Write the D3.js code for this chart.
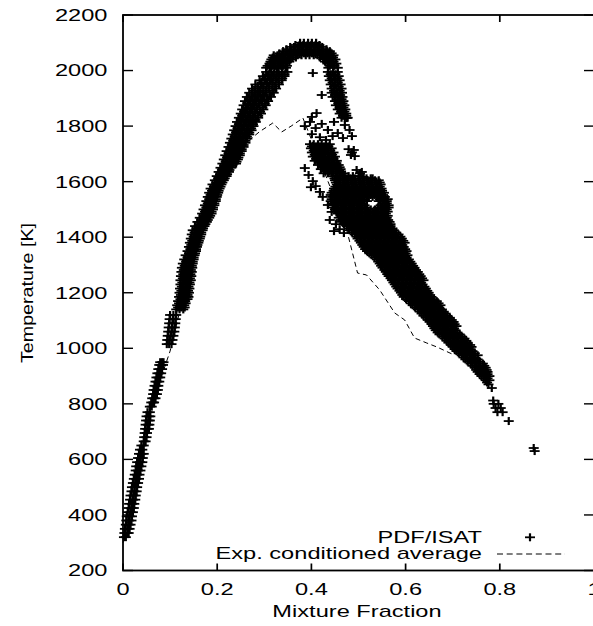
<!DOCTYPE html>
<html><head><meta charset="utf-8">
<script src="https://cdn.jsdelivr.net/npm/d3@7"></script>
<style>
body{margin:0;background:#fff}
svg{display:block}
text{font-family:"Liberation Sans",Arial,Helvetica,sans-serif;fill:#000}
</style>
</head><body>
<svg id="chart" width="593" height="626"></svg>
<script>
// ---- DATA ----
// rows: [Temperature, mixtureFraction1, mixtureFraction2, ...]
const risingBand = [
[320,0.002,0.006],[335,0.003,0.009,0.012],[350,0.004,0.010,0.014],[365,0.006,0.012,0.016],
[380,0.007,0.013,0.018],[395,0.008,0.014,0.019],[410,0.010,0.016,0.021],[425,0.012,0.018,0.023],
[440,0.013,0.019,0.024],[455,0.015,0.021,0.026],[470,0.016,0.022,0.027],[485,0.018,0.024,0.029],
[500,0.019,0.025,0.030],[515,0.021,0.027,0.032],[530,0.023,0.028,0.034],[545,0.025,0.030,0.035],
[560,0.027,0.032,0.037],[575,0.028,0.034,0.039],[590,0.030,0.036,0.041],[605,0.032,0.037,0.042],
[620,0.034,0.039,0.044],[635,0.036,0.041],[650,0.039,0.044],[665,0.044,0.048],[680,0.045,0.050],
[695,0.046,0.051],[710,0.047,0.052,0.055],[725,0.048,0.053,0.056],[740,0.049,0.054,0.057],
[755,0.050,0.055,0.058],[770,0.052,0.057],[790,0.057,0.061],[805,0.060,0.064,0.066],
[820,0.062,0.066,0.069],[835,0.064,0.068,0.072],[850,0.065,0.070,0.074],[865,0.067,0.071,0.075],
[880,0.069,0.073,0.077],[895,0.071,0.075,0.079],[910,0.073,0.077,0.081],[925,0.075,0.079,0.083],
[940,0.077,0.081,0.085],[950,0.079,0.083,0.086],
[1015,0.093,0.098,0.103],[1030,0.094,0.099,0.105],[1045,0.095,0.101,0.107],[1060,0.096,0.103,0.109],
[1075,0.097,0.104,0.110],[1090,0.098,0.105,0.111],[1105,0.099,0.106,0.112],[1120,0.100,0.107,0.113],
[1140,0.113,0.120,0.128],[1155,0.115,0.122,0.130],[1170,0.117,0.124,0.132],[1185,0.119,0.126,0.134,0.139],
[1200,0.120,0.127,0.135,0.140],[1215,0.121,0.128,0.136,0.141],[1230,0.122,0.129,0.137,0.142],
[1245,0.122,0.130,0.138,0.144],[1260,0.123,0.131,0.139,0.145],[1275,0.124,0.132,0.140,0.146],
[1290,0.125,0.133,0.141,0.147],[1305,0.127,0.135,0.143,0.148],[1320,0.130,0.138,0.145,0.150],
[1335,0.133,0.141,0.148,0.152],[1350,0.137,0.144,0.151,0.155],[1365,0.140,0.147,0.153,0.157],
[1380,0.142,0.149,0.156,0.160],[1395,0.144,0.151,0.158,0.163],[1410,0.146,0.153,0.160,0.166],
[1425,0.148,0.156,0.163,0.169],[1440,0.153,0.160,0.167,0.173],[1455,0.158,0.165,0.172,0.178],
[1470,0.163,0.170,0.177,0.183],[1485,0.168,0.175,0.182,0.188],[1500,0.171,0.178,0.185,0.191],
[1515,0.174,0.181,0.188,0.194],[1530,0.177,0.184,0.191,0.197],[1545,0.180,0.187,0.194,0.199],
[1560,0.183,0.190,0.197,0.202],[1575,0.186,0.193,0.200,0.205],[1590,0.190,0.197,0.204,0.209],
[1605,0.195,0.201,0.208,0.214],[1620,0.199,0.206,0.213,0.220],[1635,0.203,0.210,0.217,0.225],
[1650,0.207,0.214,0.222,0.230],[1665,0.211,0.219,0.227,0.235,0.240],[1680,0.214,0.222,0.230,0.238,0.244],
[1695,0.217,0.225,0.233,0.241,0.248],[1710,0.220,0.228,0.236,0.244,0.252],[1725,0.224,0.232,0.240,0.248,0.256],
[1740,0.227,0.235,0.243,0.251,0.260],[1755,0.230,0.238,0.246,0.255,0.264],[1770,0.233,0.241,0.250,0.259,0.268],
[1785,0.236,0.245,0.254,0.263,0.273],[1800,0.239,0.248,0.257,0.267,0.277],[1815,0.242,0.251,0.261,0.271,0.282],
[1830,0.246,0.255,0.265,0.276,0.287],[1845,0.250,0.259,0.270,0.281,0.293],[1860,0.253,0.263,0.274,0.285,0.298],
[1875,0.256,0.267,0.278,0.290,0.303],[1890,0.259,0.271,0.283,0.295,0.308],[1905,0.263,0.275,0.287,0.300,0.314],
[1920,0.268,0.280,0.292,0.305,0.320],[1935,0.274,0.286,0.298,0.311,0.325],[1950,0.281,0.293,0.305,0.317,0.331],
[1965,0.290,0.301,0.312,0.324,0.337],[1980,0.297,0.308,0.319,0.330,0.343],[1995,0.304,0.315,0.326,0.337,0.349]
];
const risingBandFill = [
[1147,0.117,0.124,0.131],[1162,0.119,0.126,0.133],[1177,0.122,0.130,0.137],[1192,0.123,0.131,0.137],
[1207,0.124,0.132,0.138],[1222,0.125,0.133,0.139],[1237,0.126,0.134,0.141],[1252,0.127,0.135,0.142],
[1267,0.128,0.136,0.143],[1282,0.129,0.137,0.144],[1297,0.131,0.139,0.146],[1312,0.134,0.141,0.148],
[1327,0.137,0.144,0.150],[1342,0.140,0.147,0.153],[1357,0.143,0.150,0.155],[1372,0.145,0.152,0.158],
[1387,0.147,0.154,0.161],[1402,0.150,0.157,0.164],[1417,0.152,0.159,0.166],[1432,0.156,0.163,0.170],
[1447,0.161,0.168,0.175],[1462,0.166,0.173,0.180],[1477,0.171,0.178,0.185],[1492,0.174,0.181,0.188],
[1507,0.177,0.184,0.191],[1522,0.180,0.187,0.194],[1537,0.183,0.190,0.197],[1552,0.186,0.193,0.200],
[1567,0.189,0.196,0.203],[1582,0.193,0.200,0.207],[1597,0.198,0.205,0.211],[1612,0.202,0.209,0.216],
[1627,0.206,0.213,0.221],[1642,0.210,0.218,0.226],[1657,0.215,0.223,0.231],[1672,0.218,0.226,0.234,0.241],
[1687,0.221,0.229,0.237,0.245],[1702,0.224,0.232,0.240,0.248],[1717,0.228,0.236,0.244,0.252],
[1732,0.231,0.239,0.247,0.256],[1747,0.234,0.242,0.251,0.260],[1762,0.237,0.245,0.254,0.263],
[1777,0.240,0.249,0.258,0.268],[1792,0.243,0.252,0.262,0.272],[1807,0.246,0.256,0.266,0.276],
[1822,0.250,0.260,0.270,0.281],[1837,0.253,0.264,0.275,0.287],[1852,0.257,0.268,0.279,0.291],
[1867,0.261,0.272,0.283,0.296],[1882,0.264,0.276,0.288,0.301],[1897,0.268,0.280,0.292,0.306],
[1912,0.273,0.285,0.297,0.311],[1927,0.279,0.291,0.303,0.317],[1942,0.286,0.298,0.310,0.323],
[1957,0.294,0.306,0.318,0.330],[1972,0.302,0.314,0.326,0.338],[1987,0.309,0.320,0.331,0.343]
];
const peakBand = [
[2010,0.304,0.312,0.321,0.329,0.338,0.346,0.436,0.446,0.456],
[2025,0.311,0.319,0.328,0.336,0.345,0.434,0.443,0.453],
[2040,0.315,0.323,0.332,0.340,0.349,0.356,0.425,0.433,0.442,0.451],
[2055,0.320,0.328,0.337,0.345,0.354,0.362,0.371,0.379,0.388,0.396,0.405,0.413,0.422,0.430,0.439,0.447],
[2070,0.340,0.348,0.357,0.365,0.374,0.382,0.391,0.399,0.408,0.416,0.425,0.433,0.439],
[2085,0.355,0.363,0.372,0.380,0.389,0.397,0.406,0.414,0.423],
[2100,0.376,0.384,0.393,0.401,0.410]
];
const peakBandFill = [
[2017,0.307,0.316,0.324,0.333,0.341,0.348,0.439,0.449],
[2032,0.313,0.321,0.330,0.338,0.347,0.353,0.429,0.438,0.447],
[2047,0.318,0.327,0.336,0.344,0.353,0.360,0.367,0.418,0.427,0.437,0.446],
[2062,0.332,0.341,0.350,0.358,0.367,0.375,0.384,0.392,0.401,0.409,0.418,0.426,0.435,0.443],
[2077,0.347,0.356,0.364,0.373,0.381,0.390,0.398,0.407,0.415,0.424,0.432],
[2092,0.366,0.375,0.383,0.392,0.400,0.409,0.417]
];
const rightArm = [
[1995,0.435,0.446,0.456],[1980,0.437,0.448,0.458],[1965,0.439,0.450,0.460],[1950,0.441,0.451,0.462],
[1935,0.443,0.453,0.464],[1920,0.443,0.454,0.465],[1905,0.445,0.456,0.466],[1890,0.450,0.460,0.468],
[1875,0.452,0.462,0.470],[1860,0.456,0.464,0.472],[1845,0.460,0.467,0.474],[1830,0.464,0.471,0.477]
];
const rightArmFill = [
[1987,0.441,0.451],[1972,0.443,0.455],[1957,0.445,0.456],[1942,0.448,0.458],[1927,0.448,0.460],
[1912,0.450,0.461],[1897,0.455,0.464],[1882,0.457,0.466],[1867,0.460,0.468],[1852,0.463,0.470],[1837,0.467,0.474]
];
const leftBranch = [
[1735,0.397,0.405,0.414,0.422,0.431,0.439],[1720,0.399,0.408,0.416,0.425,0.433,0.443],
[1705,0.401,0.410,0.418,0.427,0.436,0.447],[1690,0.403,0.412,0.420,0.429,0.439,0.450],
[1675,0.407,0.416,0.424,0.433,0.443,0.454],[1660,0.414,0.422,0.430,0.439,0.448,0.458],
[1645,0.420,0.428,0.437,0.446,0.455,0.462],[1630,0.426,0.435,0.443,0.452,0.460,0.467]
];
const leftBranchFill = [
[1727,0.401,0.410,0.418,0.427,0.436],[1712,0.405,0.414,0.422,0.431,0.440],[1697,0.407,0.416,0.424,0.434,0.444],
[1682,0.410,0.420,0.428,0.437,0.447],[1667,0.418,0.426,0.435,0.444,0.453],[1652,0.424,0.433,0.442,0.451,0.460],
[1637,0.430,0.439,0.447,0.456,0.463]
];
const descendingBand = [
[1620,0.445,0.454,0.462,0.471,0.479,0.488],
[1605,0.450,0.458,0.467,0.475,0.484,0.492,0.501,0.509,0.518,0.526,0.535,0.543],
[1590,0.454,0.462,0.471,0.479,0.488,0.496,0.505,0.513,0.522,0.530,0.539,0.547],
[1575,0.448,0.456,0.465,0.473,0.481,0.490,0.498,0.507,0.515,0.524,0.532,0.541,0.549],
[1560,0.443,0.452,0.460,0.469,0.477,0.486,0.494,0.503,0.511,0.520,0.528,0.537,0.545,0.554],
[1545,0.445,0.454,0.462,0.471,0.479,0.488,0.496,0.505,0.513,0.522,0.530,0.539,0.547,0.556],
[1530,0.441,0.450,0.458,0.467,0.475,0.484,0.492,0.501,0.509,0.518,0.543,0.551,0.560],
[1515,0.445,0.454,0.462,0.471,0.479,0.488,0.496,0.505,0.513,0.547,0.556,0.564],
[1500,0.450,0.458,0.467,0.475,0.484,0.492,0.501,0.509,0.518,0.526,0.535,0.543,0.552,0.560],
[1485,0.456,0.465,0.473,0.481,0.490,0.498,0.507,0.515,0.524,0.532,0.541,0.549,0.558],
[1470,0.458,0.467,0.475,0.484,0.492,0.501,0.509,0.518,0.526,0.535,0.543,0.552,0.560],
[1455,0.465,0.473,0.481,0.490,0.498,0.507,0.515,0.524,0.532,0.541,0.549,0.558,0.566],
[1440,0.475,0.484,0.492,0.501,0.509,0.518,0.526,0.535,0.543,0.552,0.560,0.568],
[1425,0.481,0.490,0.498,0.507,0.515,0.524,0.532,0.541,0.549,0.558,0.566,0.575],
[1410,0.492,0.501,0.509,0.518,0.526,0.535,0.543,0.552,0.560,0.568,0.577,0.585],
[1395,0.498,0.507,0.515,0.524,0.532,0.541,0.549,0.558,0.566,0.575,0.583,0.592],
[1380,0.505,0.513,0.522,0.530,0.539,0.547,0.556,0.564,0.573,0.581,0.590,0.598],
[1365,0.511,0.520,0.528,0.537,0.545,0.554,0.562,0.571,0.579,0.587,0.596],
[1350,0.518,0.526,0.535,0.543,0.552,0.560,0.568,0.577,0.585,0.594,0.602],
[1335,0.528,0.537,0.545,0.554,0.562,0.571,0.579,0.587,0.596,0.604],
[1320,0.539,0.547,0.556,0.564,0.573,0.581,0.590,0.598,0.607],
[1305,0.545,0.554,0.562,0.571,0.579,0.587,0.596,0.604,0.613],
[1290,0.551,0.560,0.568,0.577,0.585,0.594,0.602,0.611,0.619],
[1275,0.558,0.566,0.575,0.583,0.592,0.600,0.609,0.617,0.626],
[1260,0.564,0.573,0.581,0.590,0.598,0.607,0.615,0.624,0.632],
[1245,0.571,0.579,0.587,0.596,0.604,0.613,0.621,0.630,0.638],
[1230,0.577,0.585,0.594,0.602,0.611,0.619,0.628,0.636],
[1215,0.583,0.592,0.600,0.609,0.617,0.626,0.634,0.643],
[1200,0.590,0.598,0.607,0.615,0.624,0.632,0.641,0.649],
[1185,0.596,0.604,0.613,0.621,0.630,0.638,0.647,0.655],
[1170,0.607,0.615,0.624,0.632,0.641,0.649,0.658,0.666],
[1155,0.615,0.624,0.632,0.641,0.649,0.658,0.666,0.674],
[1140,0.626,0.634,0.643,0.651,0.660,0.668,0.677],
[1125,0.634,0.643,0.651,0.660,0.668,0.677,0.685],
[1110,0.643,0.651,0.660,0.668,0.677,0.685,0.694],
[1095,0.651,0.660,0.668,0.677,0.685,0.694,0.702],
[1080,0.658,0.666,0.674,0.683,0.691,0.700,0.708],
[1065,0.664,0.672,0.681,0.689,0.698,0.706],
[1050,0.672,0.681,0.689,0.698,0.706,0.715],
[1035,0.683,0.691,0.700,0.708,0.717,0.725],
[1020,0.691,0.700,0.708,0.717,0.725,0.732],
[1005,0.700,0.708,0.717,0.725,0.734,0.740],
[990,0.708,0.717,0.725,0.734,0.742],
[975,0.719,0.727,0.736,0.744,0.753],
[960,0.727,0.736,0.744,0.753],
[945,0.738,0.747,0.755,0.764],
[930,0.747,0.755,0.764,0.770],
[915,0.753,0.761,0.770,0.774],
[900,0.761,0.770,0.778],
[885,0.770,0.778],
[870,0.776]
];
const descendingBandFill = [
[1612,0.449,0.458,0.466,0.475,0.483,0.492,0.500,0.509,0.517,0.526,0.530],
[1597,0.452,0.460,0.469,0.477,0.486,0.494,0.503,0.511,0.520,0.528,0.537,0.545],
[1582,0.451,0.460,0.468,0.477,0.485,0.494,0.502,0.511,0.519,0.528,0.536,0.545],
[1567,0.447,0.456,0.464,0.473,0.481,0.490,0.498,0.507,0.515,0.524,0.532,0.541,0.550],
[1552,0.441,0.449,0.458,0.466,0.475,0.483,0.492,0.500,0.509,0.517,0.526,0.534,0.543,0.552],
[1537,0.443,0.451,0.460,0.468,0.477,0.485,0.494,0.502,0.511,0.545,0.554,0.562],
[1522,0.447,0.456,0.464,0.473,0.481,0.490,0.498,0.507,0.551,0.560],
[1507,0.447,0.456,0.464,0.473,0.481,0.490,0.498,0.507,0.515,0.541,0.549,0.558,0.564],
[1492,0.453,0.462,0.470,0.479,0.487,0.496,0.504,0.513,0.521,0.530,0.538,0.547,0.555,0.562],
[1477,0.462,0.470,0.479,0.487,0.496,0.504,0.513,0.521,0.530,0.538,0.547,0.555,0.562],
[1462,0.462,0.470,0.479,0.487,0.496,0.504,0.513,0.521,0.530,0.538,0.547,0.555,0.563],
[1447,0.469,0.477,0.486,0.494,0.503,0.511,0.520,0.528,0.537,0.545,0.554,0.562,0.568],
[1432,0.479,0.487,0.496,0.504,0.513,0.521,0.530,0.538,0.547,0.555,0.564,0.572],
[1417,0.486,0.494,0.503,0.511,0.520,0.528,0.537,0.545,0.554,0.562,0.571,0.580],
[1402,0.496,0.504,0.513,0.521,0.530,0.538,0.547,0.555,0.564,0.572,0.581,0.589],
[1387,0.502,0.511,0.519,0.528,0.536,0.545,0.553,0.562,0.570,0.579,0.587,0.595],
[1372,0.508,0.517,0.525,0.534,0.542,0.551,0.559,0.568,0.576,0.585,0.593],
[1357,0.514,0.523,0.531,0.540,0.548,0.557,0.565,0.574,0.582,0.591,0.599],
[1342,0.523,0.532,0.540,0.549,0.557,0.566,0.574,0.583,0.591,0.600],
[1327,0.534,0.543,0.551,0.560,0.568,0.577,0.585,0.594,0.602],
[1312,0.542,0.550,0.559,0.567,0.576,0.584,0.593,0.601,0.610],
[1297,0.548,0.557,0.565,0.574,0.582,0.591,0.599,0.608,0.616],
[1282,0.555,0.563,0.572,0.580,0.589,0.597,0.606,0.614,0.622],
[1267,0.561,0.570,0.578,0.587,0.595,0.604,0.612,0.621,0.629],
[1252,0.568,0.576,0.585,0.593,0.602,0.610,0.619,0.627,0.635],
[1237,0.574,0.583,0.591,0.600,0.608,0.617,0.625,0.633],
[1222,0.580,0.589,0.597,0.606,0.614,0.623,0.631,0.640],
[1207,0.587,0.595,0.604,0.612,0.621,0.629,0.638,0.646],
[1192,0.593,0.601,0.610,0.618,0.627,0.635,0.644,0.652],
[1177,0.601,0.610,0.618,0.627,0.635,0.644,0.652,0.660],
[1162,0.611,0.620,0.628,0.637,0.645,0.654,0.662,0.670],
[1147,0.620,0.629,0.637,0.646,0.654,0.663,0.671],
[1132,0.630,0.639,0.647,0.656,0.664,0.673,0.681],
[1117,0.638,0.647,0.655,0.664,0.672,0.681,0.689],
[1102,0.647,0.655,0.664,0.672,0.681,0.689,0.698],
[1087,0.655,0.663,0.672,0.680,0.689,0.697,0.704],
[1072,0.661,0.669,0.678,0.686,0.695,0.703],
[1057,0.668,0.676,0.685,0.693,0.702,0.710],
[1042,0.678,0.686,0.695,0.703,0.712,0.720],
[1027,0.687,0.695,0.704,0.712,0.721,0.729],
[1012,0.696,0.704,0.713,0.721,0.730,0.737],
[997,0.704,0.712,0.721,0.729,0.738],
[982,0.713,0.722,0.730,0.739,0.747],
[967,0.723,0.731,0.740,0.748],
[952,0.732,0.741,0.749,0.758],
[937,0.742,0.751,0.759,0.767],
[922,0.750,0.758,0.766,0.772],
[907,0.757,0.765,0.774],
[892,0.766,0.774],
[877,0.773]
];
// isolated / loose points: [mixtureFraction, Temperature]
const scatteredPoints = [
[0.471,1804],[0.481,1786],[0.456,1775],[0.467,1757],[0.486,1764],[0.448,1815],[0.475,1829],
[0.479,1717],[0.490,1714],[0.484,1696],[0.492,1692],[0.486,1705],
[0.496,1642],[0.507,1635],[0.501,1620],[0.511,1617],[0.503,1630],
[0.403,1991],[0.422,1912],[0.411,1847],[0.401,1833],[0.386,1649],
[0.386,1800],[0.397,1815],[0.409,1793],[0.422,1808],[0.435,1786],[0.401,1771],[0.418,1760],[0.445,1764],[0.431,1750],
[0.394,1624],[0.403,1602],[0.409,1584],[0.418,1563],[0.424,1545],[0.399,1580],
[0.435,1516],[0.443,1491],[0.439,1462],[0.452,1447],[0.460,1429],[0.448,1422],[0.469,1415],
[0.783,857],[0.786,812],[0.787,800],[0.797,800],[0.791,785],[0.802,785],[0.795,770],[0.806,770],
[0.819,738],[0.872,641],[0.874,630]
];
// experimental conditioned average
const expF = [0.0,0.013,0.037,0.060,0.100,0.130,0.160,0.200,0.235,0.265,0.290,0.318,0.337,0.357,0.382,0.445,0.475,0.498,0.517,0.545,0.577,0.598,0.619,0.645,0.666,0.698];
const expT = [300,400,600,790,990,1200,1400,1580,1690,1745,1780,1811,1779,1800,1829,1559,1426,1271,1264,1210,1127,1102,1037,1019,1005,980];

const xTickValues = [0,0.2,0.4,0.6,0.8,1];
const xTickLabels = ["0","0.2","0.4","0.6","0.8","1"];
const yTickValues = [200,400,600,800,1000,1200,1400,1600,1800,2000,2200];
const seriesNames = ["PDF/ISAT","Exp. conditioned average"];
const xTitle = "Mixture Fraction", yTitle = "Temperature [K]";

// ---- DRAWING ----
const svg = d3.select("#chart");
const x = d3.scaleLinear().domain([0,1]).range([123,594]);
const y = d3.scaleLinear().domain([200,2200]).range([570.5,15]);
const SX = 1.44, FS = 16.4;
const HW = 1.8, VW = 2.2;

const pts = [];
[risingBand, risingBandFill, peakBand, peakBandFill, rightArm, rightArmFill,
 leftBranch, leftBranchFill, descendingBand, descendingBandFill].forEach(rows =>
  rows.forEach(r => r.slice(1).forEach(f => pts.push([f, r[0]]))));
scatteredPoints.forEach(p => pts.push(p));

const gp = svg.append("g");
gp.selectAll("path.h").data(pts).join("path").attr("class","h")
  .attr("d", d => `M${x(d[0])-5},${y(d[1])}h10`)
  .attr("stroke","#000").attr("stroke-width",HW).attr("fill","none");
gp.selectAll("path.v").data(pts).join("path").attr("class","v")
  .attr("d", d => `M${x(d[0])},${y(d[1])-4}v8`)
  .attr("stroke","#000").attr("stroke-width",VW).attr("fill","none");

const expData = expF.map((f,i)=>[f,expT[i]]);
svg.append("path").datum(expData)
  .attr("d", d3.line().x(d=>x(d[0])).y(d=>y(d[1])))
  .attr("fill","none").attr("stroke","#000").attr("stroke-width",1)
  .attr("stroke-dasharray","5,3.5");

// frame
const ga = svg.append("g").attr("stroke","#000").attr("fill","none");
ga.append("rect").attr("x",x(0)).attr("y",y(2200)).attr("width",x(1)-x(0)).attr("height",y(200)-y(2200))
  .attr("stroke-width",1.8);
ga.selectAll("line.yl").data(yTickValues).join("line").attr("class","yl")
  .attr("x1",x(0)).attr("x2",x(0)+10).attr("y1",d=>y(d)).attr("y2",d=>y(d)).attr("stroke-width",1.4);
ga.selectAll("line.yr").data(yTickValues).join("line").attr("class","yr")
  .attr("x1",x(1)-10).attr("x2",x(1)).attr("y1",d=>y(d)).attr("y2",d=>y(d)).attr("stroke-width",1.4);
ga.selectAll("line.xb").data(xTickValues).join("line").attr("class","xb")
  .attr("x1",d=>x(d)).attr("x2",d=>x(d)).attr("y1",y(200)).attr("y2",y(200)-7).attr("stroke-width",1.7);
ga.selectAll("line.xt").data(xTickValues).join("line").attr("class","xt")
  .attr("x1",d=>x(d)).attr("x2",d=>x(d)).attr("y1",y(2200)).attr("y2",y(2200)+7).attr("stroke-width",1.7);

function label(px, py, str, anchor, tf){
  svg.append("text")
    .attr("transform", `translate(${px},${py}) ` + (tf || `scale(${SX},1)`))
    .attr("text-anchor", anchor).attr("font-size", FS).text(str);
}
yTickValues.forEach(v => label(107.5, y(v)+5.9, String(v), "end"));
xTickValues.forEach((v,i) => label(x(v), 594.5, xTickLabels[i], "middle"));
label(357, 617, xTitle, "middle");
label(33, 293, yTitle, "middle", "rotate(-90) scale(1.2,1)");

// legend
label(482, 543.3, seriesNames[0], "end");
label(482, 559.3, seriesNames[1], "end");
svg.append("path").attr("d","M525,537.3h10").attr("stroke","#000").attr("stroke-width",HW);
svg.append("path").attr("d","M530,533.3v8").attr("stroke","#000").attr("stroke-width",VW);
svg.append("line").attr("x1",497).attr("x2",565).attr("y1",554).attr("y2",554)
  .attr("stroke","#000").attr("stroke-width",1).attr("stroke-dasharray","6,3.7");
</script>
</body></html>
